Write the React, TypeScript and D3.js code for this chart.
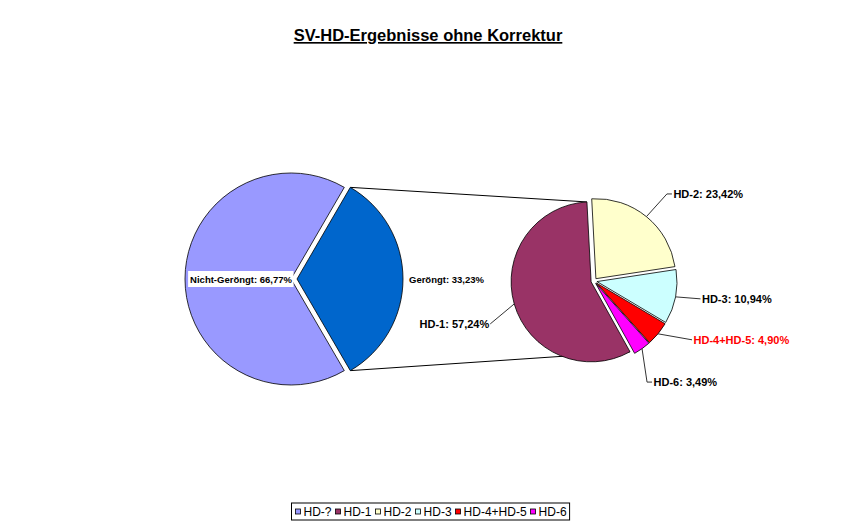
import React, { useEffect, useRef } from "react";
import * as d3 from "d3";

const title = "SV-HD-Ergebnisse ohne Korrektur";
const mainCategories = ["Nicht-Geröngt", "Geröngt"];
const mainValues = [66.77, 33.23];
const mainColors = ["#9999FF", "#0066CC"];
const subCategories = ["HD-1", "HD-2", "HD-3", "HD-4+HD-5", "HD-6"];
const subValues = [57.24, 23.42, 10.94, 4.9, 3.49];
const subColors = ["#993366", "#FFFFCC", "#CCFFFF", "#FF0000", "#FF00FF"];
const subLabelColors = ["#000", "#000", "#000", "#FF0000", "#000"];
const legendLabels = ["HD-?", "HD-1", "HD-2", "HD-3", "HD-4+HD-5", "HD-6"];
const legendColors = ["#9999FF", "#993366", "#FFFFCC", "#CCFFFF", "#FF0000", "#FF00FF"];

const W = 841;
const H = 521;
const FONT = "'Liberation Sans', Arial, Helvetica, sans-serif";

// layout
const MAIN = { cx: 291, cy: 279, r: 106, explode: [0, 6] };
const SUB = { cx: 594, cy: 281, r: 80, explode: 3, endDeg: -3 };
// leader line layout per sub slice: offset of leader end from arc point, tail length, anchor
const subLabelLayout = [
  { dx: -24, dy: 20, tail: 0, anchor: "end" },
  { dx: 20.5, dy: -22.7, tail: 5, anchor: "start" },
  { dx: 25, dy: 2, tail: 0, anchor: "start" },
  { dx: 34, dy: 6, tail: 0, anchor: "start" },
  { dx: 5, dy: 33.4, tail: 5, anchor: "start" },
];

const fmt = (v: number) => d3.format(".2f")(v).replace(".", ",") + "%";

export default function App() {
  const ref = useRef<SVGSVGElement>(null);

  useEffect(() => {
    const svg = d3.select(ref.current as SVGSVGElement);
    svg.selectAll("*").remove();
    svg.append("rect").attr("width", W).attr("height", H).attr("fill", "#fff");

    // Title
    svg
      .append("text")
      .attr("x", 428)
      .attr("y", 41)
      .attr("text-anchor", "middle")
      .attr("font-family", FONT)
      .attr("font-size", 16.5)
      .attr("font-weight", "bold")
      .attr("text-decoration", "underline")
      .text(title);

    const polar = (cx: number, cy: number, r: number, a: number) => [
      cx + r * Math.sin(a),
      cy - r * Math.cos(a),
    ];

    // Main pie
    const mainTotal = d3.sum(mainValues);
    const mainStart = Math.PI / 2 + (mainValues[1] / mainTotal) * Math.PI;
    const mainArcs = d3
      .pie<number>()
      .sort(null)
      .startAngle(mainStart)
      .endAngle(mainStart + 2 * Math.PI)(mainValues);
    const mainArc = d3.arc<any>().innerRadius(0).outerRadius(MAIN.r);
    const mainOff = mainArcs.map((a, i) => {
      const mid = (a.startAngle + a.endAngle) / 2;
      return [Math.sin(mid) * MAIN.explode[i], -Math.cos(mid) * MAIN.explode[i]];
    });

    // Sub pie
    const subTotal = d3.sum(subValues);
    const subStart = (SUB.endDeg * Math.PI) / 180 - (subValues[0] / subTotal) * 2 * Math.PI;
    const subArcs = d3
      .pie<number>()
      .sort(null)
      .startAngle(subStart)
      .endAngle(subStart + 2 * Math.PI)(subValues);
    const subArc = d3.arc<any>().innerRadius(0).outerRadius(SUB.r);
    const subOff = subArcs.map((a) => {
      const mid = (a.startAngle + a.endAngle) / 2;
      return [Math.sin(mid) * SUB.explode, -Math.cos(mid) * SUB.explode];
    });

    // Connector lines
    const g1 = mainArcs[1];
    const topMain = polar(MAIN.cx + mainOff[1][0], MAIN.cy + mainOff[1][1], MAIN.r, g1.startAngle);
    const botMain = polar(MAIN.cx + mainOff[1][0], MAIN.cy + mainOff[1][1], MAIN.r, g1.endAngle);
    const s0 = subArcs[0];
    const topSub = polar(SUB.cx + subOff[0][0], SUB.cy + subOff[0][1], SUB.r, s0.endAngle);
    const botSub = polar(SUB.cx + subOff[0][0], SUB.cy + subOff[0][1], SUB.r, s0.startAngle);
    svg
      .append("line")
      .attr("x1", topMain[0]).attr("y1", topMain[1])
      .attr("x2", topSub[0]).attr("y2", topSub[1])
      .attr("stroke", "#000").attr("stroke-width", 1);
    svg
      .append("line")
      .attr("x1", botMain[0]).attr("y1", botMain[1])
      .attr("x2", botSub[0]).attr("y2", botSub[1])
      .attr("stroke", "#000").attr("stroke-width", 1);

    const gMain = svg.append("g").attr("transform", `translate(${MAIN.cx},${MAIN.cy})`);
    gMain
      .selectAll("path")
      .data(mainArcs)
      .join("path")
      .attr("d", (d) => mainArc(d) as string)
      .attr("transform", (_, i) => `translate(${mainOff[i][0]},${mainOff[i][1]})`)
      .attr("fill", (_, i) => mainColors[i])
      .attr("stroke", "#000")
      .attr("stroke-width", 0.8)
      .attr("stroke-linejoin", "round");

    const gSub = svg.append("g").attr("transform", `translate(${SUB.cx},${SUB.cy})`);
    gSub
      .selectAll("path")
      .data(subArcs)
      .join("path")
      .attr("d", (d) => subArc(d) as string)
      .attr("transform", (_, i) => `translate(${subOff[i][0]},${subOff[i][1]})`)
      .attr("fill", (_, i) => subColors[i])
      .attr("stroke", "#000")
      .attr("stroke-width", 0.8)
      .attr("stroke-linejoin", "round");

    // Main labels
    const nichtText = svg
      .append("text")
      .attr("x", MAIN.cx + 1)
      .attr("y", MAIN.cy + 3.5)
      .attr("text-anchor", "end")
      .attr("font-family", FONT)
      .attr("font-size", 9.5)
      .attr("font-weight", "bold")
      .text(`${mainCategories[0]}: ${fmt(mainValues[0])}`);
    const bb = (nichtText.node() as SVGTextElement).getBBox();
    svg
      .insert("rect", () => nichtText.node() as any)
      .attr("x", bb.x - 2)
      .attr("y", bb.y - 2.5)
      .attr("width", bb.width + 3)
      .attr("height", bb.height + 5)
      .attr("fill", "#fff");

    svg
      .append("text")
      .attr("x", MAIN.cx + MAIN.explode[1] + MAIN.r + 6)
      .attr("y", MAIN.cy + 4)
      .attr("font-family", FONT)
      .attr("font-size", 9.5)
      .attr("font-weight", "bold")
      .text(`${mainCategories[1]}: ${fmt(mainValues[1])}`);

    // Sub labels with leader lines
    subArcs.forEach((a, i) => {
      const mid = (a.startAngle + a.endAngle) / 2;
      const p0 = polar(SUB.cx + subOff[i][0], SUB.cy + subOff[i][1], SUB.r, mid);
      const L = subLabelLayout[i];
      const p1 = [p0[0] + L.dx, p0[1] + L.dy];
      const p2 = [p1[0] + (L.anchor === "end" ? -L.tail : L.tail), p1[1]];
      svg
        .append("polyline")
        .attr("points", [p0, p1, p2].map((p) => p.join(",")).join(" "))
        .attr("fill", "none")
        .attr("stroke", "#333")
        .attr("stroke-width", 1);
      svg
        .append("text")
        .attr("x", p2[0] + (L.anchor === "end" ? -1 : 1.5))
        .attr("y", p2[1] + 4)
        .attr("text-anchor", L.anchor)
        .attr("font-family", FONT)
        .attr("font-size", 11)
        .attr("font-weight", "bold")
        .attr("fill", subLabelColors[i])
        .text(`${subCategories[i]}: ${fmt(subValues[i])}`);
    });

    // Legend
    const lg = svg.append("g");
    const box = lg.append("rect");
    let x = 0;
    legendLabels.forEach((lab, i) => {
      lg.append("rect")
        .attr("x", x)
        .attr("y", 509)
        .attr("width", 5)
        .attr("height", 5)
        .attr("fill", legendColors[i])
        .attr("stroke", "#000")
        .attr("stroke-width", 0.8);
      const t = lg
        .append("text")
        .attr("x", x + 8)
        .attr("y", 516)
        .attr("font-family", FONT)
        .attr("font-size", 12)
        .attr("fill", "#000")
        .text(lab);
      const w = (t.node() as SVGTextElement).getComputedTextLength();
      x = x + 8 + w + 4;
    });
    const totalW = x - 4 + 3 + 4;
    const boxX = 430.5 - totalW / 2;
    box
      .attr("x", 0)
      .attr("y", 503)
      .attr("width", totalW)
      .attr("height", 17)
      .attr("fill", "#fff")
      .attr("stroke", "#000")
      .attr("stroke-width", 1);
    lg.selectAll("rect:not(:first-child), text").attr("transform", "translate(4,0)");
    lg.attr("transform", `translate(${Math.round(boxX) + 0.5},0)`);
  }, []);

  return (
    <svg
      ref={ref}
      width={W}
      height={H}
      style={{ position: "absolute", left: 0, top: 0, display: "block", background: "#fff" }}
    />
  );
}
